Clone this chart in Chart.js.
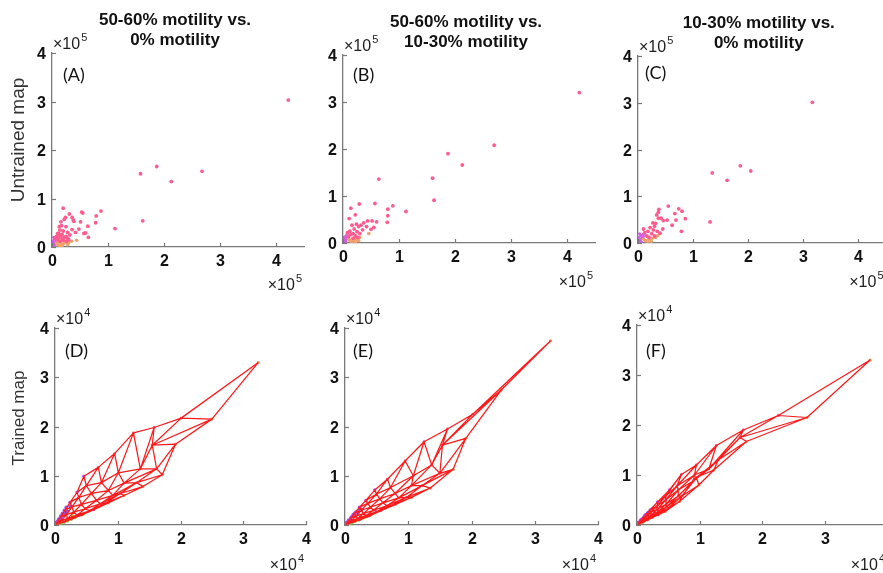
<!DOCTYPE html>
<html lang="en">
<head>
<meta charset="UTF-8">
<title>Untrained vs trained SOM maps</title>
<script src="https://cdn.jsdelivr.net/npm/chart.js"></script>
<style>
  body { margin: 0; background: #fff; }
  #fig { position: relative; width: 883px; height: 573px; overflow: hidden; background: #fff; }
  #fig canvas { position: absolute; }
</style>
</head>
<body>
<div id="fig">
  <canvas id="pD" width="320" height="283" style="left:0px;top:290px"></canvas>
  <canvas id="pE" width="310" height="283" style="left:300px;top:290px"></canvas>
  <canvas id="pF" width="300" height="283" style="left:595px;top:290px"></canvas>
  <canvas id="pA" width="320" height="300" style="left:0px;top:0px"></canvas>
  <canvas id="pB" width="300" height="300" style="left:300px;top:0px"></canvas>
  <canvas id="pC" width="300" height="300" style="left:595px;top:0px"></canvas>
</div>
<script>
// ---- text ----
const titleA = ['50-60% motility vs.', '0% motility'];
const titleB = ['50-60% motility vs.', '10-30% motility'];
const titleC = ['10-30% motility vs.', '0% motility'];
const yLabelTop = 'Untrained map';
const yLabelBottom = 'Trained map';
const tickValues = [0, 1, 2, 3, 4];

// ---- untrained maps (x10^5) ----
const A_pink = [[4.22,3.03],[1.87,1.66],[1.58,1.51],[2.68,1.56],[2.13,1.35],[1.62,0.54],[1.125,0.38],[0.875,0.74],
  [0.79,0.64],[0.78,0.5],[0.65,0.2],[0.6,0.29],[0.64,0.43],[0.53,0.72],[0.55,0.7],[0.51,0.52],[0.48,0.37],[0.38,0.56],
  [0.36,0.61],[0.31,0.68],[0.2,0.8],[0.22,0.57],[0.16,0.52],[0.13,0.42],[0.25,0.42],[0.36,0.36],[0.57,0.28],[0.39,0.53],
  [0.24,0.61],[0.17,0.44],[0.28,0.3],[0.32,0.25],[0.2,0.33],[0.1,0.28],[0.14,0.35],[0.42,0.3],[0.08,0.22],[0.12,0.2],
  [0.15,0.24],[0.18,0.18],[0.22,0.2],[0.25,0.22],[0.28,0.18],[0.2,0.14],[0.15,0.12],[0.1,0.15],[0.3,0.15],[0.26,0.12],
  [0.12,0.28],[0.06,0.18],[0.18,0.26]];
const A_orange = [[0.1,0.05],[0.15,0.08],[0.2,0.06],[0.25,0.09],[0.3,0.1],[0.18,0.03],[0.12,0.1],[0.28,0.05],[0.22,0.11],
  [0.35,0.12],[0.44,0.14],[0.14,0.02],[0.08,0.08]];
const A_magenta = [[0.02,0.12],[0.04,0.16],[0.03,0.2],[0.06,0.1],[0.05,0.06],[0.01,0.08],[0.08,0.14],[0.02,0.04],[0.04,0.02],[0.07,0.2]];
const A_green = [[0.01,0.01],[0.03,0.02],[0.02,0.0],[0.05,0.01]];

const B_pink = [[4.22,3.2],[2.7,2.08],[1.875,1.9],[2.13,1.66],[1.6,1.38],[1.625,0.91],[1.125,0.67],[0.89,0.79],[0.8,0.72],
  [0.8,0.58],[0.79,0.44],[0.64,1.36],[0.57,0.84],[0.29,0.83],[0.14,0.74],[0.22,0.6],[0.11,0.52],[0.6,0.45],[0.52,0.47],
  [0.55,0.33],[0.5,0.29],[0.44,0.47],[0.37,0.43],[0.32,0.38],[0.28,0.35],[0.24,0.4],[0.2,0.3],[0.35,0.28],[0.42,0.35],
  [0.16,0.38],[0.12,0.25],[0.25,0.24],[0.3,0.2],[0.18,0.2],[0.22,0.15],[0.14,0.18],[0.08,0.22],[0.1,0.14],[0.26,0.12],[0.18,0.1]];
const B_orange = [[0.46,0.2],[0.12,0.06],[0.18,0.05],[0.24,0.08],[0.3,0.12],[0.2,0.1],[0.15,0.03],[0.1,0.1],[0.28,0.05],[0.22,0.02]];
const B_magenta = [[0.02,0.1],[0.04,0.14],[0.03,0.06],[0.06,0.08],[0.01,0.12],[0.07,0.18],[0.05,0.03],[0.08,0.12],[0.02,0.02]];
const B_green = [[0.01,0.0],[0.03,0.01],[0.0,0.02]];

const C_pink = [[3.17,3.01],[1.86,1.65],[2.05,1.54],[1.35,1.5],[1.62,1.34],[1.31,0.45],[0.79,0.25],[0.86,0.52],[0.8,0.68],
  [0.74,0.73],[0.55,0.79],[0.67,0.63],[0.69,0.49],[0.62,0.38],[0.53,0.49],[0.38,0.72],[0.37,0.66],[0.34,0.6],[0.37,0.53],
  [0.42,0.53],[0.46,0.48],[0.32,0.42],[0.27,0.43],[0.4,0.21],[0.28,0.28],[0.22,0.33],[0.3,0.36],[0.45,0.3],[0.35,0.25],
  [0.18,0.25],[0.25,0.2],[0.12,0.22],[0.16,0.15],[0.2,0.12],[0.3,0.15],[0.1,0.3]];
const C_orange = [[0.14,0.05],[0.2,0.08],[0.26,0.1],[0.32,0.12],[0.18,0.02],[0.1,0.08],[0.24,0.04],[0.36,0.16]];
const C_magenta = [[0.02,0.12],[0.05,0.16],[0.03,0.2],[0.07,0.1],[0.04,0.06],[0.09,0.18],[0.01,0.05],[0.06,0.02],[0.1,0.14],[0.12,0.2]];
const C_green = [[0.0,0.01],[0.02,0.0],[0.03,0.02]];

// ---- trained maps: SOM node positions (x10^4), rows x cols ----
const D_nodes = [
  [[0,0],[0.04,0.07],[0.09,0.17],[0.16,0.3],[0.24,0.46],[0.35,0.66],[0.46,0.99]],
  [[0.06,0.03],[0.11,0.1],[0.18,0.21],[0.27,0.37],[0.38,0.56],[0.5,0.8],[0.69,1.17]],
  [[0.14,0.06],[0.2,0.13],[0.3,0.26],[0.42,0.42],[0.58,0.64],[0.74,0.86],[0.95,1.45]],
  [[0.26,0.12],[0.35,0.2],[0.48,0.33],[0.66,0.5],[0.85,0.7],[1.01,1.06],[1.25,1.87]],
  [[0.42,0.2],[0.55,0.29],[0.72,0.43],[0.92,0.6],[1.1,0.85],[1.36,1.14],[1.58,1.98]],
  [[0.62,0.31],[0.8,0.44],[1.04,0.64],[1.3,0.86],[1.62,1.14],[1.55,1.62],[2.01,2.17]],
  [[0.85,0.45],[1.1,0.6],[1.4,0.78],[1.71,1.02],[1.92,1.64],[2.5,2.15],[3.24,3.3]]
];
const E_nodes = [
  [[0,0],[0.04,0.06],[0.09,0.14],[0.15,0.24],[0.23,0.36],[0.33,0.5],[0.47,0.71]],
  [[0.06,0.03],[0.11,0.09],[0.17,0.18],[0.26,0.3],[0.36,0.44],[0.5,0.63],[0.67,0.93]],
  [[0.13,0.06],[0.2,0.13],[0.29,0.23],[0.4,0.36],[0.55,0.53],[0.72,0.76],[0.95,1.3]],
  [[0.24,0.11],[0.33,0.19],[0.45,0.3],[0.6,0.45],[0.79,0.64],[1.08,1.0],[1.25,1.69]],
  [[0.38,0.18],[0.5,0.27],[0.66,0.39],[0.85,0.55],[1.05,0.8],[1.37,1.22],[1.62,1.95]],
  [[0.57,0.29],[0.74,0.4],[0.97,0.56],[1.22,0.8],[1.5,1.05],[1.54,1.62],[2.02,2.25]],
  [[0.8,0.42],[1.05,0.56],[1.35,0.75],[1.71,1.13],[1.91,1.76],[2.47,2.74],[3.25,3.74]]
];
const F_nodes = [
  [[0,0],[0.03,0.05],[0.07,0.11],[0.13,0.19],[0.21,0.3],[0.33,0.46],[0.52,0.7]],
  [[0.05,0.03],[0.09,0.08],[0.14,0.15],[0.22,0.25],[0.32,0.38],[0.46,0.58],[0.71,1.01]],
  [[0.1,0.06],[0.16,0.12],[0.23,0.2],[0.33,0.32],[0.46,0.5],[0.64,0.78],[0.95,1.2]],
  [[0.17,0.1],[0.24,0.17],[0.34,0.27],[0.47,0.42],[0.66,0.7],[0.92,1.0],[1.27,1.59]],
  [[0.25,0.15],[0.34,0.23],[0.47,0.36],[0.66,0.58],[0.9,0.88],[1.15,1.12],[1.7,1.9]],
  [[0.34,0.2],[0.5,0.34],[0.72,0.58],[0.95,0.95],[1.3,1.3],[1.65,1.75],[2.26,2.19]],
  [[0.45,0.27],[0.68,0.47],[0.99,0.8],[1.23,1.1],[1.75,1.67],[2.72,2.15],[3.73,3.3]]
];
// input samples near the origin of the trained maps
const D_purple = [[0.03,0.06],[0.06,0.12],[0.09,0.18],[0.12,0.24],[0.15,0.3],[0.18,0.36],[0.1,0.15],[0.14,0.2],[0.2,0.28],[0.24,0.38],[0.05,0.09],[0.08,0.1],[0.16,0.26]];
const D_green = [[0.06,0.02],[0.1,0.04],[0.15,0.06],[0.2,0.08],[0.26,0.12],[0.32,0.15],[0.38,0.2],[0.12,0.08],[0.2,0.12],[0.28,0.18],[0.45,0.22]];
const E_purple = [[0.03,0.05],[0.06,0.1],[0.1,0.16],[0.13,0.21],[0.17,0.26],[0.22,0.3],[0.26,0.32],[0.09,0.12],[0.15,0.19],[0.2,0.24],[0.05,0.07]];
const E_green = [[0.06,0.02],[0.1,0.04],[0.16,0.07],[0.22,0.1],[0.28,0.14],[0.34,0.17],[0.4,0.2],[0.13,0.08],[0.25,0.16]];
const F_purple = [[0.02,0.04],[0.05,0.08],[0.08,0.12],[0.11,0.16],[0.15,0.21],[0.19,0.26],[0.24,0.32],[0.13,0.2],[0.06,0.1],[0.17,0.24]];
const F_green = [[0.04,0.02],[0.08,0.05],[0.12,0.08],[0.17,0.11],[0.22,0.15],[0.28,0.2],[0.1,0.07],[0.2,0.14]];
const blueCore = [[0.01,0.01],[0.02,0.03],[0.04,0.02],[0.03,0.04]];

// ---- styling ----
const AXIS = '#7a7a7a';
const TXT = '#1e1e1e';
const SANS = '"Liberation Sans", Arial, Helvetica, sans-serif';
const PINK = '#ff5c8d', ORANGE = '#f2a06c', MAGENTA = '#d45ae0', GREEN = '#4fd04f', PURPLE = '#8f52f2', BLUE = '#3a6cff';
const YW = 30, XH = 25;

const pts = arr => arr.map(p => ({ x: p[0], y: p[1] }));

function meshEdges(g) {
  const out = [];
  const seg = (a, b) => out.push({ x: a[0], y: a[1] }, { x: b[0], y: b[1] }, { x: null, y: null });
  for (let i = 0; i < g.length; i++) {
    for (let j = 0; j < g[i].length; j++) {
      if (j + 1 < g[i].length) seg(g[i][j], g[i][j + 1]);
      if (i + 1 < g.length) seg(g[i][j], g[i + 1][j]);
      if (i + 1 < g.length && j + 1 < g[i].length) seg(g[i + 1][j], g[i][j + 1]);
    }
  }
  return out;
}

function dots(arr, color, r) {
  return { type: 'scatter', data: pts(arr), backgroundColor: color, borderWidth: 0, pointRadius: r, pointHoverRadius: r };
}

function scatterSets(pink, orange, magenta, green) {
  return [dots(pink, PINK, 1.9), dots(orange, ORANGE, 1.8), dots(magenta, MAGENTA, 1.5), dots(green, GREEN, 1.6)];
}

function meshSets(nodes, purple, green) {
  const inner = nodes.slice(1, -1).flat();
  return [
    { type: 'scatter', data: meshEdges(nodes), showLine: true, spanGaps: false, borderColor: '#ff1a1a', borderWidth: 1.25, pointRadius: 0 },
    dots(inner, '#f0508a', 1.4),
    dots(nodes[0], '#c04ff0', 1.7),
    dots(nodes[nodes.length - 1], '#e0905a', 1.6),
    dots(green, '#7bd23c', 1.8),
    dots(purple, PURPLE, 1.8),
    dots(blueCore, BLUE, 1.8)
  ];
}

function drawExpo(ctx, x, y, sup, right) {
  ctx.font = 'normal 16px ' + SANS;
  const w1 = ctx.measureText('\u00d710').width;
  ctx.font = 'normal 11px ' + SANS;
  const w2 = ctx.measureText(sup).width;
  const x0 = right ? x - w1 - w2 - 1 : x;
  ctx.fillStyle = TXT;
  ctx.textAlign = 'left';
  ctx.textBaseline = 'middle';
  ctx.font = 'normal 16px ' + SANS;
  ctx.fillText('\u00d710', x0, y);
  ctx.font = 'normal 11px ' + SANS;
  ctx.fillText(sup, x0 + w1 + 1, y - 7);
}

const extras = {
  id: 'extras',
  afterDraw(chart, args, o) {
    const { ctx, chartArea: a, scales } = chart;
    const sx = scales.x, sy = scales.y;
    ctx.save();
    // MATLAB style inward ticks and bold tick labels
    ctx.strokeStyle = AXIS;
    ctx.lineWidth = 1.2;
    ctx.fillStyle = '#111';
    ctx.font = 'bold 16px ' + SANS;
    sx.ticks.forEach(t => {
      const px = Math.round(sx.getPixelForValue(t.value)) + 0.5;
      ctx.beginPath(); ctx.moveTo(px, a.bottom); ctx.lineTo(px, a.bottom - 4); ctx.stroke();
      ctx.textAlign = 'center'; ctx.textBaseline = 'top';
      ctx.fillText(String(t.value), px, a.bottom + 7);
    });
    sy.ticks.forEach(t => {
      const py = Math.round(sy.getPixelForValue(t.value)) + 0.5;
      ctx.beginPath(); ctx.moveTo(a.left, py); ctx.lineTo(a.left + 4, py); ctx.stroke();
      ctx.textAlign = 'right'; ctx.textBaseline = 'middle';
      ctx.fillText(String(t.value), a.left - 6, py + 1);
    });
    // title
    if (o.title) {
      ctx.fillStyle = '#111';
      ctx.font = 'bold 17px ' + SANS;
      ctx.textAlign = 'center';
      ctx.textBaseline = 'middle';
      const cx = (a.left + a.right) / 2 - 3;
      ctx.fillText(o.title[0], cx, a.top - 33);
      ctx.fillText(o.title[1], cx, a.top - 13);
    }
    // row label
    if (o.ylabel) {
      ctx.save();
      ctx.translate(o.ylabel.x, o.ylabel.y);
      ctx.rotate(-Math.PI / 2);
      ctx.fillStyle = '#333';
      ctx.font = 'normal ' + o.ylabel.size + 'px ' + SANS;
      ctx.textAlign = 'center';
      ctx.textBaseline = 'middle';
      ctx.fillText(o.ylabel.text, 0, 0);
      ctx.restore();
    }
    // panel letter
    ctx.fillStyle = '#111';
    ctx.font = 'normal 18px Lato, "Open Sans", sans-serif';
    ctx.textAlign = 'left';
    ctx.textBaseline = 'middle';
    ctx.fillText(o.panel, a.left + o.px, a.top + o.py);
    // exponents
    drawExpo(ctx, a.left + 1, a.top - 8, o.exp, false);
    drawExpo(ctx, a.right - 2, a.bottom + o.ex, o.exp, true);
    ctx.restore();
  }
};

function axis(max, isX) {
  return {
    type: 'linear', min: 0, max: max,
    afterFit: s => { if (isX) s.height = XH; else s.width = YW; },
    afterBuildTicks: s => { s.ticks = tickValues.filter(v => v <= max).map(v => ({ value: v })); },
    grid: { display: false, drawTicks: false },
    border: { display: true, color: AXIS, width: 1.3 },
    ticks: { display: false }
  };
}

const panels = [
  { id: 'pA', cx: 0,   cy: 0,   cw: 320, ch: 300, l: 52,  t: 53,  r: 304,   b: 247, xmax: 4.5, exp: '5', ex: 39, panel: '(A)', px: 11, py: 22, title: titleA,
    ylabel: { text: yLabelTop, x: 19, y: 140, size: 19 }, sets: scatterSets(A_pink, A_orange, A_magenta, A_green) },
  { id: 'pB', cx: 300, cy: 0,   cw: 300, ch: 300, l: 343, t: 55,  r: 595,   b: 243, xmax: 4.5, exp: '5', ex: 40, panel: '(B)', px: 10, py: 20, title: titleB,
    sets: scatterSets(B_pink, B_orange, B_magenta, B_green) },
  { id: 'pC', cx: 595, cy: 0,   cw: 300, ch: 300, l: 638, t: 56,  r: 885.5, b: 243, xmax: 4.5, exp: '5', ex: 40, panel: '(C)', px: 7,  py: 17, title: titleC,
    sets: scatterSets(C_pink, C_orange, C_magenta, C_green) },
  { id: 'pD', cx: 0,   cy: 290, cw: 320, ch: 283, l: 55,  t: 328, r: 306,   b: 525, xmax: 4,   exp: '4', ex: 41, panel: '(D)', px: 10, py: 23,
    ylabel: { text: yLabelBottom, x: 19, y: 128, size: 17 }, sets: meshSets(D_nodes, D_purple, D_green) },
  { id: 'pE', cx: 300, cy: 290, cw: 310, ch: 283, l: 345, t: 328, r: 598,   b: 525, xmax: 4,   exp: '4', ex: 41, panel: '(E)', px: 8,  py: 23,
    sets: meshSets(E_nodes, E_purple, E_green) },
  { id: 'pF', cx: 595, cy: 290, cw: 300, ch: 283, l: 637, t: 325, r: 887,   b: 525, xmax: 4,   exp: '4', ex: 41, panel: '(F)', px: 9,  py: 26,
    sets: meshSets(F_nodes, F_purple, F_green) }
];

panels.forEach(p => {
  new Chart(document.getElementById(p.id), {
    type: 'scatter',
    data: { datasets: p.sets },
    options: {
      responsive: false,
      animation: false,
      devicePixelRatio: 1,
      events: [],
      layout: { padding: { left: p.l - p.cx - YW, top: p.t - p.cy, right: p.cx + p.cw - p.r, bottom: p.cy + p.ch - p.b - XH } },
      plugins: {
        legend: { display: false },
        tooltip: { enabled: false },
        extras: { title: p.title, ylabel: p.ylabel, panel: p.panel, px: p.px, py: p.py, exp: p.exp, ex: p.ex }
      },
      scales: { x: axis(p.xmax, true), y: axis(4, false) }
    },
    plugins: [extras]
  });
});
</script>
</body>
</html>
